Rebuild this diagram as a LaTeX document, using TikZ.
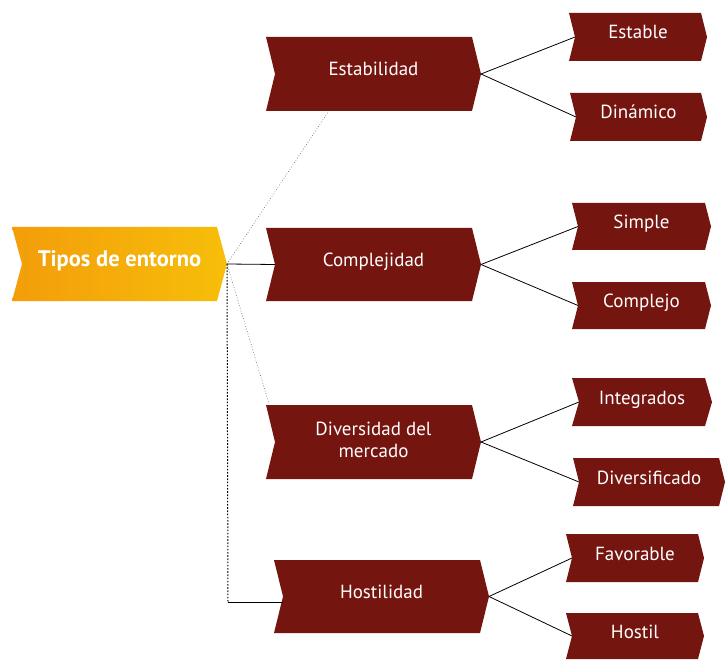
\documentclass[tikz,border=0pt]{standalone}
\usepackage{fontspec}
\setmainfont{PT Sans}
\definecolor{wine}{RGB}{117,21,16}
\definecolor{amber}{RGB}{243,157,10}
\definecolor{gold}{RGB}{247,190,10}
\tikzset{
  winefill/.style={fill=wine},
  goldfill/.style={left color=amber,right color=gold},
  chevtext/.style={text=white,align=center,font=\fontsize{19}{22}\selectfont,inner sep=0pt},
  link/.style={draw=black,line width=0.8pt},
  faint/.style={draw=black!55,line width=0.7pt,dotted},
  darkdots/.style={draw=black,line width=1pt,dash pattern=on 1.6pt off 1.6pt},
}
% #1 name, #2 fill style, #3 left, #4 top, #5 right, #6 bottom, #7 notch depth, #8 text, #9 text placement
\newcommand\chevron[9]{%
  \pgfmathsetmacro\cy{(#4+#6)/2}%
  \pgfmathsetmacro\cx{(#3+#5+#7)/2}%
  \path[#2] (#3,#4) -- (#5,#4) -- (#5+#7,\cy) -- (#5,#6) -- (#3,#6) -- (#3+#7,\cy) -- cycle;
  \node[chevtext,#9] (#1) at (\cx,\cy+2) {#8};
  \coordinate (#1-in) at (#3+#7,\cy);
  \coordinate (#1-tip) at (#5+#7,\cy);
}
\begin{document}
\begin{tikzpicture}[x=1pt,y=-1pt]
\useasboundingbox (0,0) rectangle (725,660);

% root
\chevron{root}{goldfill}{12}{227}{217}{301}{10}{\fontsize{22.5}{26}\selectfont\bfseries Tipos de entorno}{anchor=base}

% second level
\chevron{estab}{winefill}{266}{37}{472}{111}{9}{Estabilidad}{anchor=base}
\chevron{compl}{winefill}{266}{228}{472}{301}{9}{Complejidad}{anchor=base}
\chevron{divers}{winefill}{266}{405}{472}{479}{9}{Diversidad del\\mercado}{anchor=center,yshift=4pt}
\chevron{hostil}{winefill}{274}{560}{480}{633}{9}{Hostilidad}{anchor=base}

% third level
\chevron{estable}{winefill}{569}{13}{701}{61}{6}{Estable}{anchor=base}
\chevron{dinamico}{winefill}{570}{93}{701}{141}{6}{Dinámico}{anchor=base}
\chevron{simple}{winefill}{572}{203}{705}{250}{6}{Simple}{anchor=base}
\chevron{complejo}{winefill}{572}{282}{705}{329}{6}{Complejo}{anchor=base}
\chevron{integ}{winefill}{572}{378}{705}{426}{7}{Integrados}{anchor=base}
\chevron{diversif}{winefill}{573}{458}{719}{506}{6}{Diversificado}{anchor=base}
\chevron{favor}{winefill}{566}{534}{698}{582}{6}{Favorable}{anchor=base}
\chevron{hostilb}{winefill}{566}{613}{698}{659}{6}{Hostil}{anchor=base}

% anchor points for the root's side links
\coordinate (estab-foot) at (328,112);
\coordinate (divers-corner) at (269,404);
\coordinate (bend) at (228,602);
\coordinate (hostil-end) at (283,602);

% root to second level
\draw[link] (root-tip) -- (compl-in);
\draw[faint] (root-tip) -- (estab-foot);
\draw[faint] (root-tip) -- (divers-corner);
\draw[darkdots] (root-tip) -- (bend);
\draw[link] (bend) -- (hostil-end);

% second level to third level
\draw[link] (estab-tip) -- (estable-in);
\draw[link] (estab-tip) -- (dinamico-in);
\draw[link] (compl-tip) -- (simple-in);
\draw[link] (compl-tip) -- (complejo-in);
\draw[link] (divers-tip) -- (integ-in);
\draw[link] (divers-tip) -- (diversif-in);
\draw[link] (hostil-tip) -- (favor-in);
\draw[link] (hostil-tip) -- (hostilb-in);
\end{tikzpicture}
\end{document}
